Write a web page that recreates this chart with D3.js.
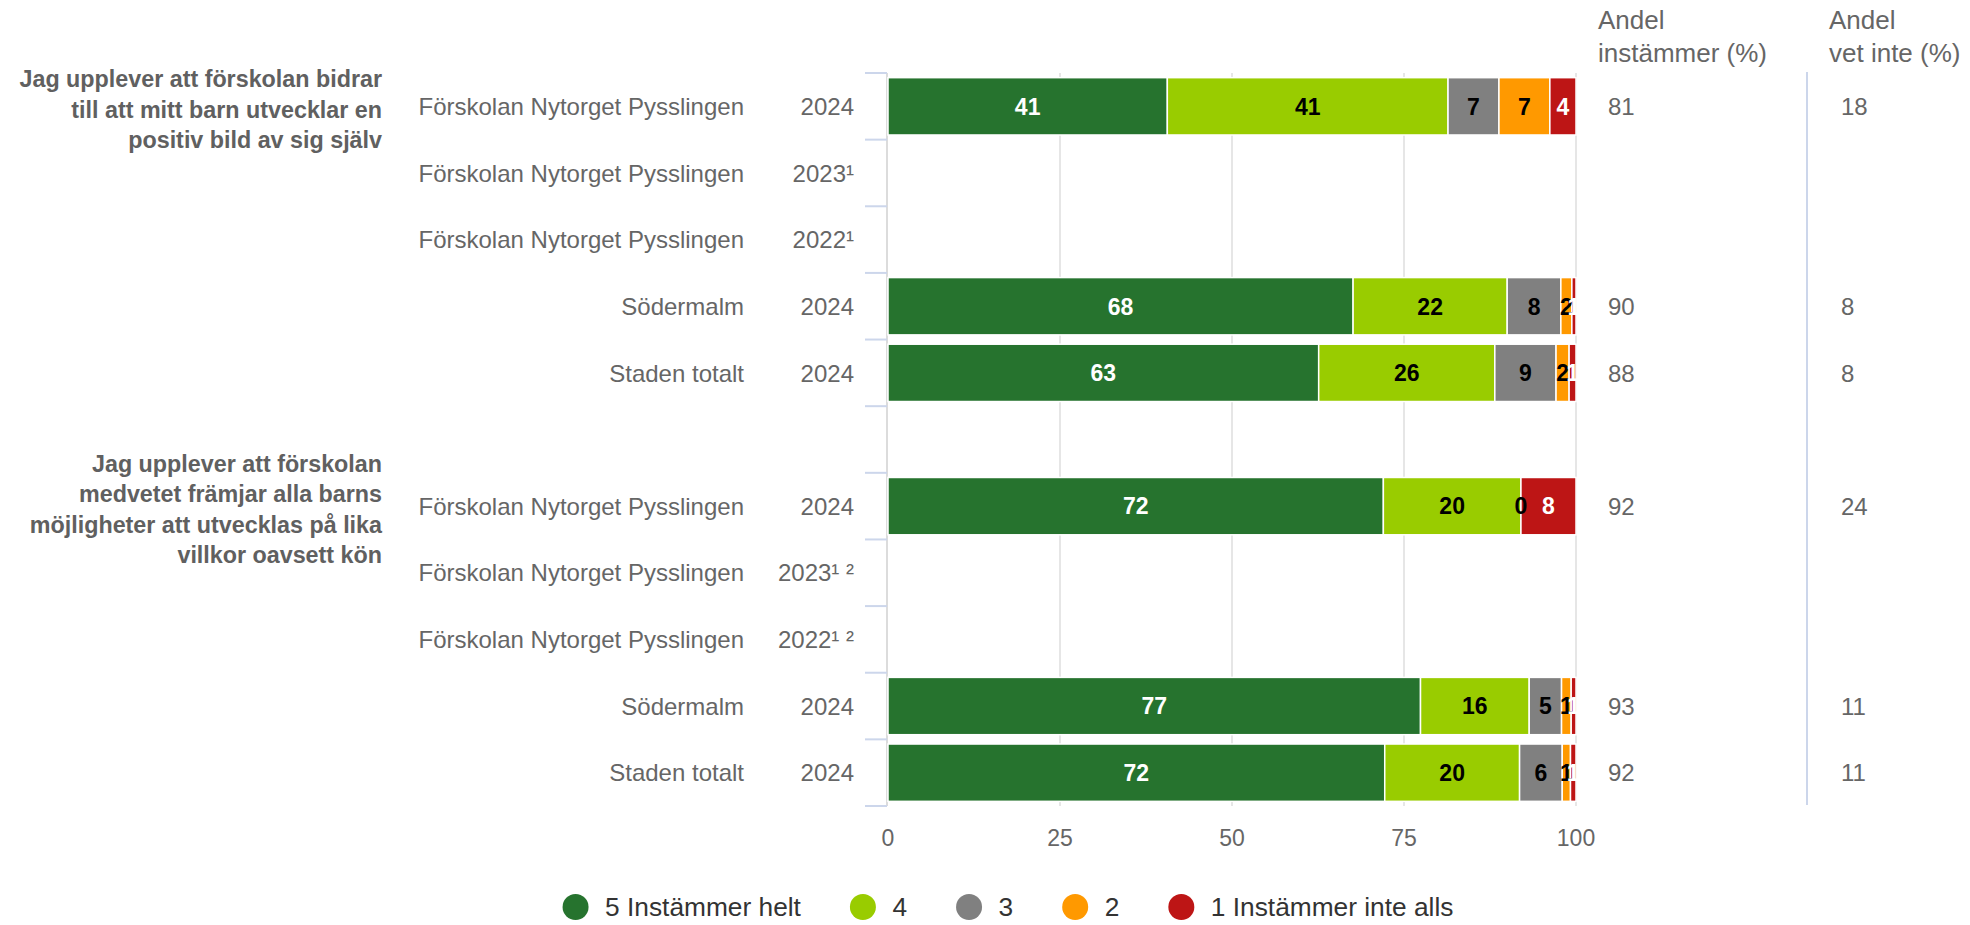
<!DOCTYPE html>
<html>
<head>
<meta charset="utf-8">
<script src="https://cdn.jsdelivr.net/npm/d3@7"></script>
<style>
  html, body { margin: 0; padding: 0; background: #fff; }
  svg { display: block; font-family: "Liberation Sans", Arial, sans-serif; }
</style>
</head>
<body>
<svg id="chart" width="1970" height="925"></svg>
<script>
// question labels, already wrapped as in the picture
const questionLines = [
  ["Jag upplever att förskolan bidrar", "till att mitt barn utvecklar en", "positiv bild av sig själv"],
  ["Jag upplever att förskolan", "medvetet främjar alla barns", "möjligheter att utvecklas på lika", "villkor oavsett kön"]
];

const rowGroup = [0, 0, 0, 0, 0, 1, 1, 1, 1, 1];
const rowUnits = [
  "Förskolan Nytorget Pysslingen", "Förskolan Nytorget Pysslingen", "Förskolan Nytorget Pysslingen", "Södermalm", "Staden totalt",
  "Förskolan Nytorget Pysslingen", "Förskolan Nytorget Pysslingen", "Förskolan Nytorget Pysslingen", "Södermalm", "Staden totalt"
];
const rowYears = ["2024", "2023¹", "2022¹", "2024", "2024", "2024", "2023¹ ²", "2022¹ ²", "2024", "2024"];

// share of answers per option (%)
const s5 = [40.6, null, null, 67.6, 62.6, 72.0, null, null, 77.4, 72.2];
const s4 = [40.8, null, null, 22.4, 25.6, 20.0, null, null, 15.8, 19.6];
const s3 = [7.4, null, null, 7.8, 8.9, 0, null, null, 4.7, 6.2];
const s2 = [7.4, null, null, 1.6, 1.9, null, null, null, 1.4, 1.2];
const s1 = [3.8, null, null, 0.6, 1.0, 8.0, null, null, 0.7, 0.8];

const agreeShare = [81, null, null, 90, 88, 92, null, null, 93, 92];
const dontKnowShare = [18, null, null, 8, 8, 24, null, null, 11, 11];

const seriesNames = ["5 Instämmer helt", "4", "3", "2", "1 Instämmer inte alls"];
const seriesColors = ["#26732e", "#99cc00", "#808080", "#ff9900", "#bd1515"];
const labelColors = ["#ffffff", "#000000", "#000000", "#000000", "#ffffff"];
const xTicks = [0, 25, 50, 75, 100];

const TEXT = "#666666";
const TICK_BLUE = "#ccd6eb";

const svg = d3.select("#chart");

// rows, with one empty slot between the two questions
const rowIds = rowUnits.map((_, i) => "r" + i);
const domain = [...rowIds.slice(0, 5), "gap", ...rowIds.slice(5)];

const x = d3.scaleLinear().domain([0, 100]).range([888, 1576]);
const y = d3.scaleBand().domain(domain).range([73, 806]).paddingInner(0.14).paddingOuter(0.07);
const step = y.step();
const yMid = id => y(id) + y.bandwidth() / 2;

const keys = ["s5", "s4", "s3", "s2", "s1"];
const rows = rowIds.map((id, i) => ({ id, s5: s5[i], s4: s4[i], s3: s3[i], s2: s2[i], s1: s1[i] }));
const stacked = d3.stack().keys(keys).value((d, k) => d[k] == null ? 0 : d[k])(rows);

// grid lines
svg.append("g")
  .selectAll("line")
  .data(xTicks.slice(1))
  .join("line")
  .attr("x1", d => x(d)).attr("x2", d => x(d))
  .attr("y1", 73).attr("y2", 806)
  .attr("stroke", "#e6e6e6")
  .attr("stroke-width", 2);

svg.append("line")
  .attr("x1", x(0) - 1).attr("x2", x(0) - 1)
  .attr("y1", 73).attr("y2", 806)
  .attr("stroke", "#dcdcdc")
  .attr("stroke-width", 2);

// category ticks at band edges
const edges = domain.map(d => y(d) - step * 0.07).concat([y(domain[domain.length - 1]) + y.bandwidth() + step * 0.07]);
svg.append("g")
  .selectAll("line")
  .data(edges)
  .join("line")
  .attr("x1", 865).attr("x2", 887)
  .attr("y1", d => d).attr("y2", d => d)
  .attr("stroke", TICK_BLUE)
  .attr("stroke-width", 2);

// bars
const barG = svg.append("g");
stacked.forEach((layer, si) => {
  barG.append("g")
    .attr("fill", seriesColors[si])
    .selectAll("rect")
    .data(layer.filter(d => d.data[keys[si]] != null && d.data[keys[si]] > 0))
    .join("rect")
    .attr("x", d => x(d[0]))
    .attr("y", d => y(d.data.id))
    .attr("width", d => x(d[1]) - x(d[0]))
    .attr("height", y.bandwidth())
    .attr("stroke", "#fff")
    .attr("stroke-width", 1.5);
});

// data labels, clipped to the plot
svg.append("clipPath").attr("id", "plotClip")
  .append("rect").attr("x", 880).attr("y", 60).attr("width", 1577 - 880).attr("height", 760);

const labelG = svg.append("g").attr("clip-path", "url(#plotClip)");
stacked.forEach((layer, si) => {
  labelG.append("g")
    .selectAll("text")
    .data(layer.filter(d => d.data[keys[si]] != null))
    .join("text")
    .attr("x", d => x((d[0] + d[1]) / 2))
    .attr("y", d => yMid(d.data.id))
    .attr("dy", "0.36em")
    .attr("text-anchor", "middle")
    .attr("font-size", 23)
    .attr("font-weight", "bold")
    .attr("fill", labelColors[si])
    .text(d => Math.round(d.data[keys[si]]));
});

// category labels
const catG = svg.append("g").attr("font-size", 24).attr("fill", TEXT);
catG.selectAll("text.unit")
  .data(rowIds)
  .join("text")
  .attr("class", "unit")
  .attr("x", 744)
  .attr("y", d => yMid(d))
  .attr("dy", "0.36em")
  .attr("text-anchor", "end")
  .text((d, i) => rowUnits[i]);
catG.selectAll("text.year")
  .data(rowIds)
  .join("text")
  .attr("class", "year")
  .attr("x", 854)
  .attr("y", d => yMid(d))
  .attr("dy", "0.36em")
  .attr("text-anchor", "end")
  .text((d, i) => rowYears[i]);

// question labels next to the first row of each group
const firstRow = questionLines.map((_, g) => rowIds[rowGroup.indexOf(g)]);
questionLines.forEach((lines, g) => {
  const cy = yMid(firstRow[g]) + 3;
  const lh = 30.5;
  svg.append("text")
    .attr("font-size", 23.3)
    .attr("font-weight", "bold")
    .attr("fill", "#606060")
    .attr("text-anchor", "end")
    .selectAll("tspan")
    .data(lines)
    .join("tspan")
    .attr("x", 382)
    .attr("y", (d, i) => cy + (i - (lines.length - 1) / 2) * lh)
    .attr("dy", "0.36em")
    .text(d => d);
});

// x axis labels
svg.append("g")
  .selectAll("text")
  .data(xTicks)
  .join("text")
  .attr("x", d => x(d))
  .attr("y", 838)
  .attr("dy", "0.36em")
  .attr("text-anchor", "middle")
  .attr("font-size", 23)
  .attr("fill", TEXT)
  .text(d => d);

// side columns
const columns = [
  { head: ["Andel", "instämmer (%)"], values: agreeShare, hx: 1598, vx: 1608 },
  { head: ["Andel", "vet inte (%)"], values: dontKnowShare, hx: 1829, vx: 1841 }
];
svg.append("line")
  .attr("x1", 1807).attr("x2", 1807)
  .attr("y1", 72).attr("y2", 805)
  .attr("stroke", TICK_BLUE)
  .attr("stroke-width", 2);

columns.forEach(col => {
  svg.append("text")
    .attr("font-size", 26)
    .attr("fill", TEXT)
    .selectAll("tspan")
    .data(col.head)
    .join("tspan")
    .attr("x", col.hx)
    .attr("y", (d, i) => 29 + i * 33)
    .text(d => d);
  svg.append("g")
    .selectAll("text")
    .data(rowIds.filter((d, i) => col.values[i] != null))
    .join("text")
    .attr("x", col.vx)
    .attr("y", d => yMid(d))
    .attr("dy", "0.36em")
    .attr("font-size", 24)
    .attr("fill", TEXT)
    .text(d => col.values[rowIds.indexOf(d)]);
});

// legend
const legend = svg.append("g").attr("font-size", 26.3).attr("fill", "#333333");
let lx = 0;
const items = [];
seriesNames.forEach((name, i) => {
  const it = legend.append("g");
  it.append("circle").attr("cx", 13).attr("cy", 0).attr("r", 13).attr("fill", seriesColors[i]);
  const t = it.append("text").attr("x", 42.5).attr("dy", "0.36em").text(name);
  const w = 42.5 + t.node().getComputedTextLength();
  items.push({ it, lx });
  lx += w + 49;
});
const totalW = lx - 49;
const startX = 1008 - totalW / 2;
items.forEach(({ it, lx }) => it.attr("transform", `translate(${startX + lx},907)`));
</script>
</body>
</html>
